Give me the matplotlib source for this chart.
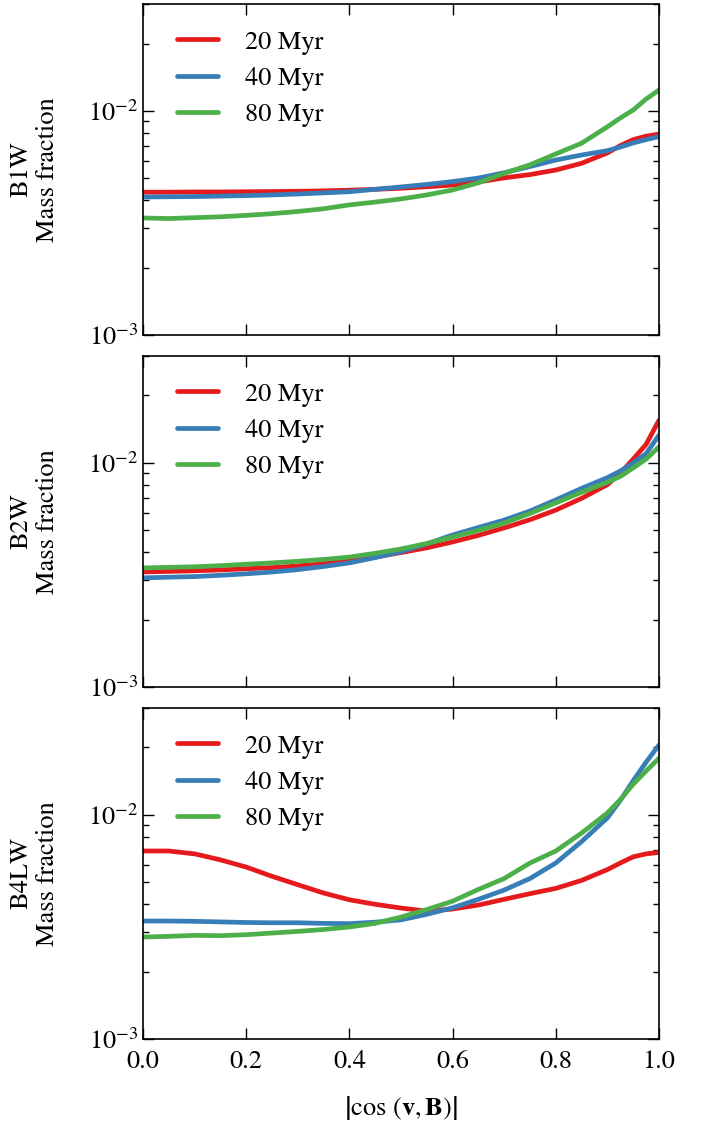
import matplotlib
matplotlib.use("Agg")
import matplotlib.pyplot as plt
from matplotlib.ticker import LogLocator, NullFormatter, FixedLocator

plt.rcParams["font.family"] = ["STIXGeneral", "DejaVu Serif"]
plt.rcParams["mathtext.fontset"] = "stix"

# |cos(v, B)| sample points
cos_vb = [0.0, 0.05, 0.1, 0.15, 0.2, 0.25, 0.3, 0.35, 0.4, 0.45, 0.5, 0.55,
          0.6, 0.65, 0.7, 0.75, 0.8, 0.85, 0.9, 0.925, 0.95, 0.975, 1.0]

ages = ["20 Myr", "40 Myr", "80 Myr"]
colors = ["#e41a1c", "#377eb8", "#4daf4a"]
models = ["B1W", "B2W", "B4LW"]

# Mass fraction per run and age
b1w_20 = [.00434, .00434, .00435, .00435, .00436, .00437, .00438, .0044, .00443, .00447, .00452, .00459,
          .00467, .00482, .00503, .0052, .00545, .00584, .0065, .0070, .00745, .00772, .00788]
b1w_40 = [.00413, .00414, .00415, .00417, .00419, .00422, .00426, .00431, .00436, .00447, .00458, .0047,
          .00484, .00502, .0053, .00565, .00604, .00636, .00665, .0069, .0072, .00745, .00768]
b1w_80 = [.00333, .00331, .00334, .00337, .00342, .00348, .00356, .00366, .00381, .00392, .00405, .00422,
          .00444, .00478, .00527, .00575, .00643, .00718, .0085, .0093, .0101, .0113, .0124]

b2w_20 = [.00326, .00328, .0033, .00333, .00337, .00341, .00347, .00355, .00366, .0038, .00398, .00418,
          .00444, .00475, .00513, .00558, .00616, .00695, .0080, .0090, .0104, .0121, .0155]
b2w_40 = [.00307, .00309, .00311, .00315, .0032, .00326, .00334, .00345, .00358, .00378, .00402, .00435,
          .00477, .00515, .00556, .0061, .00684, .0077, .0086, .0092, .0100, .0110, .0133]
b2w_80 = [.0034, .00342, .00344, .00348, .00353, .00358, .00364, .00371, .0038, .00395, .00413, .00437,
          .00467, .005, .00539, .00595, .00663, .0074, .0082, .0087, .0095, .0104, .0118]

b4lw_20 = [.0069, .0069, .0067, .0063, .00585, .00532, .00488, .00448, .00418, .00399, .00384, .00372,
           .0038, .00396, .0042, .00445, .0047, .0051, .0057, .0061, .0065, .0067, .0068]
b4lw_40 = [.00336, .00336, .00335, .00333, .00331, .0033, .0033, .00328, .00327, .00332, .0034, .0036,
           .00385, .0042, .00462, .0052, .0061, .0076, .0097, .0116, .0142, .0172, .0205]
b4lw_80 = [.00285, .00287, .0029, .00289, .00292, .00297, .00302, .00308, .00316, .00328, .0035, .00378,
           .00412, .00465, .0052, .0061, .0069, .0083, .0102, .0117, .0137, .0157, .0179]

runs = [[b1w_20, b1w_40, b1w_80],
        [b2w_20, b2w_40, b2w_80],
        [b4lw_20, b4lw_40, b4lw_80]]

x_ticks = [0.0, 0.2, 0.4, 0.6, 0.8, 1.0]

fig, axes = plt.subplots(3, 1, figsize=(7.03, 11.26), dpi=100, sharex=True)
fig.subplots_adjust(left=0.2034, right=0.9374, top=0.9964, bottom=0.0773, hspace=0.0634)

for ax, model, series in zip(axes, models, runs):
    for vals, col, lab in zip(series, colors, ages):
        ax.plot(cos_vb, vals, color=col, lw=3.4, label=lab, solid_capstyle="round",
                solid_joinstyle="round")
    ax.set_yscale("log")
    ax.set_ylim(1e-3, 3e-2)
    ax.set_xlim(0, 1)
    ax.xaxis.set_major_locator(FixedLocator(x_ticks))
    ax.yaxis.set_major_locator(LogLocator(base=10, numticks=10))
    ax.yaxis.set_minor_locator(LogLocator(base=10, subs=range(2, 10), numticks=10))
    ax.yaxis.set_minor_formatter(NullFormatter())
    ax.tick_params(which="both", direction="in", top=True, right=True, labelsize=19, width=1.0)
    ax.tick_params(which="major", length=8)
    ax.tick_params(which="minor", length=4.5)
    ax.tick_params(axis="x", pad=8)
    for sp in ax.spines.values():
        sp.set_linewidth(1.2)
    ax.set_ylabel(model + "\nMass fraction", fontsize=19, linespacing=1.15)
    ax.yaxis.set_label_coords(-0.16, 0.5)
    ax.legend(loc="upper left", frameon=False, fontsize=19, handlelength=1.55,
              handletextpad=1.05, labelspacing=0.45, borderaxespad=0.0,
              bbox_to_anchor=(0.045, 0.953))

axes[-1].set_xticklabels([f"{t:.1f}" for t in x_ticks])
axes[-1].set_xlabel(r"$\left|\cos\,\left(\mathbf{v},\mathbf{B}\right)\right|$", fontsize=19,
                    labelpad=14)

fig.savefig("out.png", dpi=100)
